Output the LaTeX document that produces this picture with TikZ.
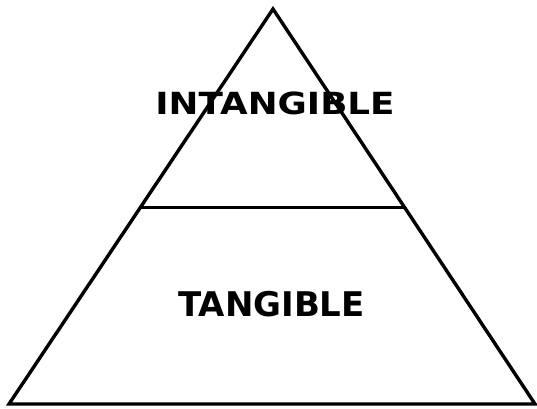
\documentclass[tikz,border=0pt]{standalone}
\usepackage{fontspec}
\setmainfont{DejaVu Sans}
\usepackage{tikz}
\usetikzlibrary{calc}

\begin{document}
\begin{tikzpicture}[
  x=1pt, y=1pt,
  edge/.style={line width=3.4pt, line join=miter, black},
  label/.style={font=\bfseries, inner sep=0pt},
]
  \useasboundingbox (0,0) rectangle (537,408);

  \coordinate (apex) at (273,399);
  \coordinate (bl) at (9,4);
  \coordinate (br) at (535,4);
  \coordinate (ml) at ($(bl)!0.498!(apex)$);
  \coordinate (mr) at ($(br)!0.498!(apex)$);

  \draw[edge] (bl) -- (apex) -- (br) -- cycle;
  \draw[edge] (ml) -- (mr);

  \node[label, font=\bfseries\fontsize{30.5}{34}\selectfont, xscale=1.17]
    (upper) at (275,304.5) {INTANGIBLE};
  \node[label, font=\bfseries\fontsize{34}{38}\selectfont]
    (lower) at (271.5,103.5) {TANGIBLE};
\end{tikzpicture}
\end{document}
